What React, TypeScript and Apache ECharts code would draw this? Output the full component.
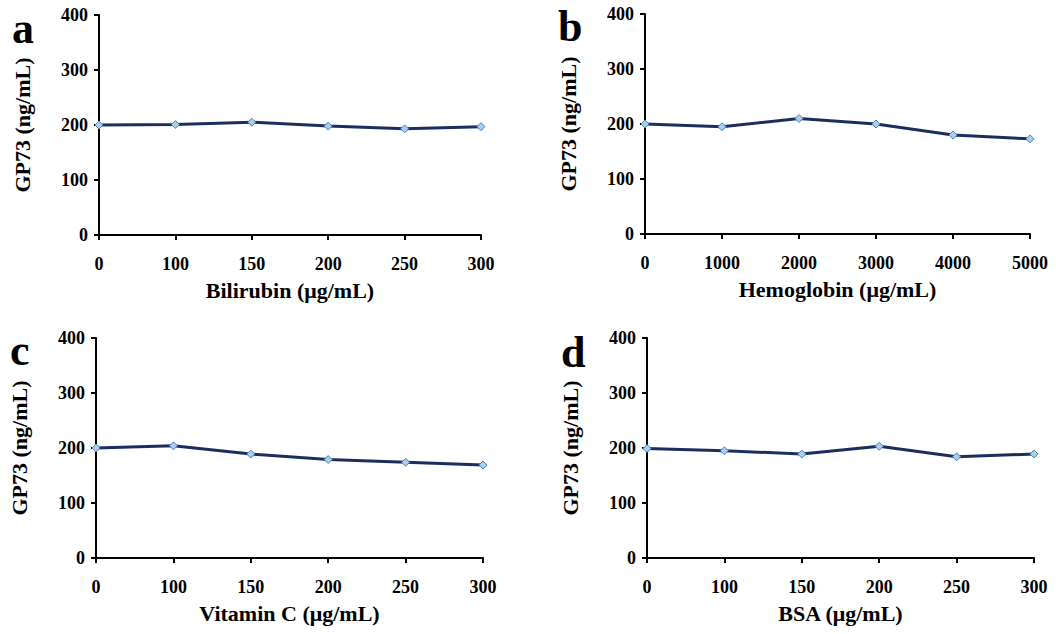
import React, { useEffect, useRef } from "react";
import * as echarts from "echarts";

const yTicks = [0, 100, 200, 300, 400];
const bilirubinX = ["0", "100", "150", "200", "250", "300"];
const bilirubinY = [200, 201, 205, 198, 193, 197];
const hemoglobinX = ["0", "1000", "2000", "3000", "4000", "5000"];
const hemoglobinY = [200, 195, 210, 200, 180, 173];
const vitaminCX = ["0", "100", "150", "200", "250", "300"];
const vitaminCY = [200, 204, 189, 179, 174, 169];
const bsaX = ["0", "100", "150", "200", "250", "300"];
const bsaY = [199, 195, 189, 203, 184, 189];

const panelLetters = ["a", "b", "c", "d"];
const xNames = ["Bilirubin (μg/mL)", "Hemoglobin (μg/mL)", "Vitamin C (μg/mL)", "BSA (μg/mL)"];
const yName = "GP73 (ng/mL)";

const FONT = "'Times New Roman', 'Liberation Serif', serif";

export default function App() {
  const ref = useRef<HTMLDivElement>(null);
  useEffect(() => {
    if (!ref.current) return;
    const chart = echarts.init(ref.current, undefined, { renderer: "svg" });
    const grids = [
      { left: 99, top: 15, width: 382, height: 220 },
      { left: 645, top: 14, width: 385, height: 220 },
      { left: 96, top: 338, width: 387, height: 220 },
      { left: 647, top: 338, width: 387, height: 220 },
    ];
    const cats = [bilirubinX, hemoglobinX, vitaminCX, bsaX];
    const vals = [bilirubinY, hemoglobinY, vitaminCY, bsaY];
    const axisLine = { show: true, lineStyle: { color: "#000", width: 2 } };
    const axisTick = { show: true, length: 5, lineStyle: { color: "#000", width: 2 } };
    const letterPos = [
      { x: 12, y: 6 },
      { x: 558, y: 4 },
      { x: 10, y: 328 },
      { x: 561, y: 330 },
    ];
    chart.setOption({
      animation: false,
      backgroundColor: "#fff",
      grid: grids.map((g) => ({ ...g, containLabel: false })),
      xAxis: cats.map((c, i) => ({
        type: "category",
        gridIndex: i,
        data: c,
        boundaryGap: false,
        axisLine,
        axisTick,
        axisLabel: { color: "#000", fontFamily: FONT, fontWeight: "bold", fontSize: 18, margin: 20 },
        splitLine: { show: false },
        name: xNames[i],
        nameLocation: "middle",
        nameGap: 44,
        nameTextStyle: { color: "#000", fontFamily: FONT, fontWeight: "bold", fontSize: 22 },
      })),
      yAxis: cats.map((_, i) => ({
        type: "value",
        gridIndex: i,
        min: yTicks[0],
        max: yTicks[yTicks.length - 1],
        interval: 100,
        axisLine,
        axisTick,
        axisLabel: { color: "#000", fontFamily: FONT, fontWeight: "bold", fontSize: 18, margin: 11 },
        splitLine: { show: false },
        name: yName,
        nameLocation: "middle",
        nameGap: 66,
        nameTextStyle: { color: "#000", fontFamily: FONT, fontWeight: "bold", fontSize: 22 },
      })),
      series: vals.map((v, i) => ({
        type: "line",
        xAxisIndex: i,
        yAxisIndex: i,
        data: v,
        symbol: "diamond",
        symbolSize: 8,
        showSymbol: true,
        lineStyle: { color: "#1B2E5E", width: 3 },
        itemStyle: { color: "#A9CFEB", borderColor: "#4F81BD", borderWidth: 1 },
        z: 3,
      })),
      graphic: panelLetters.map((l, i) => ({
        type: "text",
        left: letterPos[i].x,
        top: letterPos[i].y,
        style: { text: l, fontFamily: FONT, fontWeight: "bold", fontSize: 44, fill: "#000" },
      })),
    });
    return () => chart.dispose();
  }, []);
  return (
    <div
      ref={ref}
      style={{ position: "fixed", left: 0, top: 0, width: 1056, height: 634, background: "#fff" }}
    />
  );
}
